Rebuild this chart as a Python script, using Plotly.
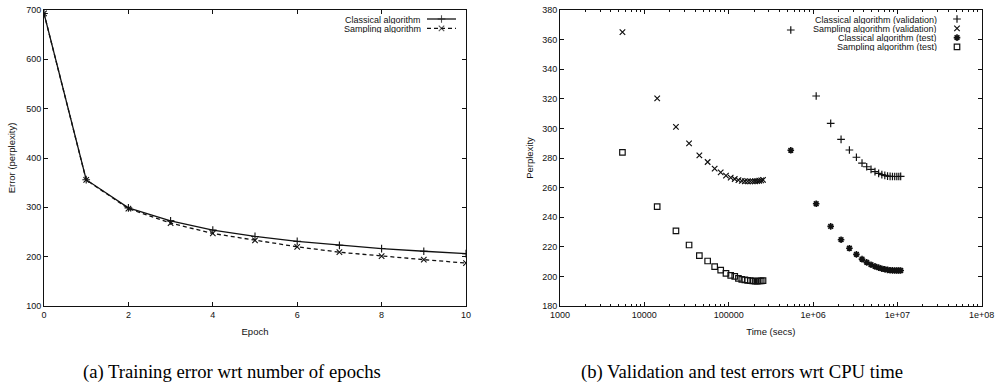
import plotly.graph_objects as go

# ---------------- data ----------------
epochs = list(range(11))
classical_train = [693, 356, 299, 272.5, 254, 241, 231, 223, 216.5, 211, 206]
sampling_train = [693, 355.5, 297.5, 268, 247, 233, 220, 209, 201, 194, 187]

sampling_time = [5500, 14200, 23700, 33900, 44900, 56300, 68200, 80400, 92900, 105600,
                 118000, 130500, 143000, 155500, 168000, 180500, 193000, 205500, 218000,
                 230500, 243000, 255500]
sampling_valid = [365.1, 320.3, 301.0, 289.9, 281.8, 277.3, 272.8, 270.3, 268.1, 266.7,
                  265.8, 265.0, 264.5, 264.3, 264.2, 264.2, 264.2, 264.3, 264.4, 264.6,
                  264.9, 265.2]
sampling_test = [283.8, 247.1, 230.7, 221.2, 214.0, 210.4, 206.6, 204.3, 202.1, 200.7,
                 200.0, 198.7, 198.0, 197.6, 197.3, 197.1, 196.9, 196.8, 196.8, 196.9,
                 197.0, 197.1]

classical_time = [545000, 1090000, 1620000, 2150000, 2700000, 3270000, 3810000, 4330000,
                  4870000, 5430000, 6000000, 6550000, 7100000, 7650000, 8200000, 8750000,
                  9300000, 9850000, 10400000, 10950000]
classical_valid = [366.5, 321.9, 303.4, 292.6, 285.4, 280.5, 276.6, 274.1, 272.3, 270.8,
                   269.6, 268.7, 268.3, 267.8, 267.6, 267.5, 267.5, 267.5, 267.5, 267.6]
classical_test = [285.2, 249.1, 233.8, 224.8, 219.0, 214.9, 211.7, 209.5, 207.9, 206.8,
                  205.9, 205.2, 204.8, 204.4, 204.2, 204.1, 204.0, 204.0, 204.0, 204.0]

left_names = ["Classical algorithm", "Sampling algorithm"]
right_names = ["Classical algorithm (validation)", "Sampling algorithm (validation)",
               "Classical algorithm (test)", "Sampling algorithm (test)"]
log_tick_vals = [1e3, 1e4, 1e5, 1e6, 1e7, 1e8]
log_tick_text = ["1000", "10000", "100000", "1e+06", "1e+07", "1e+08"]
captions = ["(a) Training error wrt number of epochs",
            "(b) Validation and test errors wrt CPU time"]

# ---------------- styling ----------------
W, H = 995, 385
INK = "#111111"
SANS = "Liberation Sans, Arial, sans-serif"
SERIF = "Liberation Serif, Times New Roman, serif"

left_styles = [
    dict(dash="solid", symbol="cross-thin"),
    dict(dash="4px,3px", symbol="x-thin"),
]
right_styles = [
    dict(symbol="cross-thin", size=5.5, lw=1.2),
    dict(symbol="x-thin", size=5.5, lw=1.2),
    dict(symbol="asterisk-open", size=5.5, lw=1.6),
    dict(symbol="square-open", size=5.5, lw=1.2),
]

fig = go.Figure()

# left panel
for name, yv, st in zip(left_names, [classical_train, sampling_train], left_styles):
    fig.add_trace(go.Scatter(
        x=epochs, y=yv, mode="lines+markers", name=name, showlegend=False,
        line=dict(color=INK, width=1.3, dash=st["dash"]),
        marker=dict(symbol=st["symbol"], size=5.5, color=INK,
                    line=dict(color=INK, width=1.1)),
        xaxis="x", yaxis="y"))

# right panel
right_series = [(classical_time, classical_valid), (sampling_time, sampling_valid),
                (classical_time, classical_test), (sampling_time, sampling_test)]
for name, (xv, yv), st in zip(right_names, right_series, right_styles):
    fig.add_trace(go.Scatter(
        x=xv, y=yv, mode="markers", name=name, showlegend=False,
        marker=dict(symbol=st["symbol"], size=st["size"], color=INK,
                    line=dict(color=INK, width=st["lw"])),
        xaxis="x2", yaxis="y2"))

# ---------------- gnuplot-like key (text right-aligned, sample on the right) ----------------
annotations = []
key_font = dict(family=SANS, size=9, color=INK)
row_h = 9.3

# left key
for i, (name, st) in enumerate(zip(left_names, left_styles)):
    yrow = 19 + i * row_h
    annotations.append(dict(x=422, y=yrow, xref="x3", yref="y3", text=name,
                            showarrow=False, xanchor="right", yanchor="middle",
                            height=9, borderpad=0, font=key_font))
    fig.add_trace(go.Scatter(
        x=[427, 441.5, 456], y=[yrow] * 3, mode="lines+markers", showlegend=False,
        line=dict(color=INK, width=1.3, dash=st["dash"]),
        marker=dict(symbol=st["symbol"], size=[0, 5.5, 0], color=INK,
                    line=dict(color=INK, width=1.1)),
        xaxis="x3", yaxis="y3", hoverinfo="skip"))

# right key
for i, (name, st) in enumerate(zip(right_names, right_styles)):
    yrow = 19 + i * row_h
    annotations.append(dict(x=938, y=yrow, xref="x3", yref="y3", text=name,
                            showarrow=False, xanchor="right", yanchor="middle",
                            height=9, borderpad=0, font=key_font))
    fig.add_trace(go.Scatter(
        x=[957], y=[yrow], mode="markers", showlegend=False,
        marker=dict(symbol=st["symbol"], size=st["size"], color=INK,
                    line=dict(color=INK, width=st["lw"])),
        xaxis="x3", yaxis="y3", hoverinfo="skip"))

# captions
for cx, txt in zip([232, 742], captions):
    annotations.append(dict(x=cx / W, y=1 - 372 / H, xref="paper", yref="paper",
                            text=txt, showarrow=False, xanchor="center",
                            yanchor="middle",
                            font=dict(family=SERIF, size=18.7, color="#000")))

tick_font = dict(family=SANS, size=9, color=INK)
title_font = dict(family=SANS, size=9.5, color=INK)
common_axis = dict(showline=True, linecolor=INK, linewidth=1, mirror="allticks",
                   ticks="inside", ticklen=4, tickcolor=INK, tickwidth=1,
                   showgrid=False, zeroline=False, tickfont=tick_font,
                   automargin=False)

y_dom = [1 - 306 / H, 1 - 10 / H]

fig.update_layout(
    width=W, height=H,
    margin=dict(l=0, r=0, t=0, b=0, autoexpand=False),
    paper_bgcolor="white", plot_bgcolor="rgba(0,0,0,0)",
    showlegend=False,
    xaxis=dict(domain=[44 / W, 466 / W], range=[0, 10], dtick=2, tick0=0,
               title=dict(text="Epoch", font=title_font, standoff=9),
               anchor="y", **common_axis),
    yaxis=dict(domain=y_dom, range=[100, 700], dtick=100, tick0=100,
               title=dict(text="Error (perplexity)", font=title_font, standoff=8),
               anchor="x", **common_axis),
    xaxis2=dict(domain=[560 / W, 981.7 / W], type="log", range=[3, 8],
                tickvals=log_tick_vals, ticktext=log_tick_text,
                minor=dict(ticks="inside", ticklen=2, tickcolor=INK, dtick="D1",
                           showgrid=False),
                title=dict(text="Time (secs)", font=title_font, standoff=9),
                anchor="y2", **common_axis),
    yaxis2=dict(domain=y_dom, range=[180, 380], dtick=20, tick0=180,
                title=dict(text="Perplexity", font=title_font, standoff=6),
                anchor="x2", **common_axis),
    xaxis3=dict(domain=[0, 1], range=[0, W], visible=False, anchor="y3",
                fixedrange=True),
    yaxis3=dict(domain=[0, 1], range=[H, 0], visible=False, anchor="x3",
                fixedrange=True),
    annotations=annotations,
)

fig.write_html("out.html",
               config={"displayModeBar": False, "staticPlot": True},
               post_script="document.body.style.margin='0px';"
                           "document.body.style.overflow='hidden';")
